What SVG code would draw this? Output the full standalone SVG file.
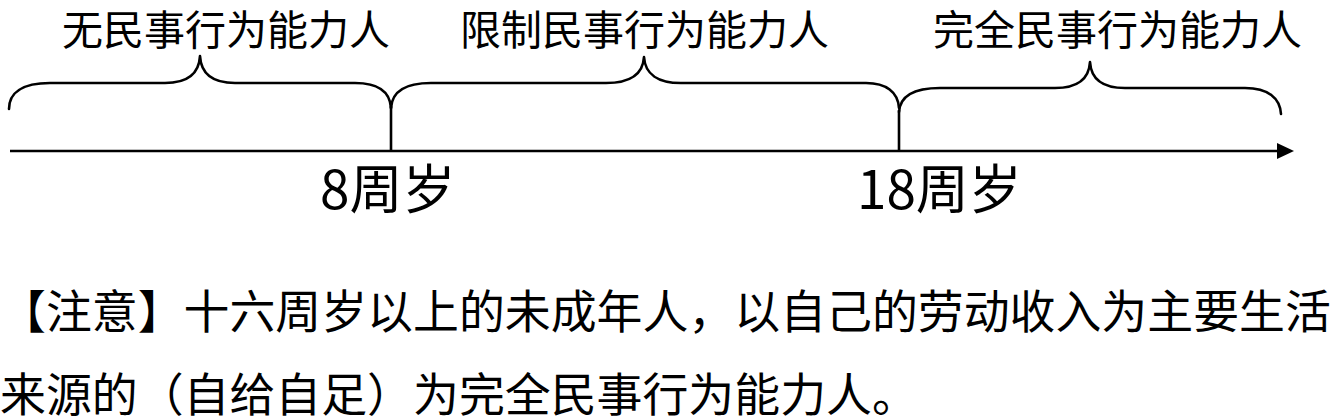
<svg xmlns="http://www.w3.org/2000/svg" width="1331" height="416" viewBox="0 0 1331 416">
<style>
text{font-family:"Noto Sans CJK SC","Liberation Sans",sans-serif;fill:#000}
.lab{font-size:41px;text-anchor:middle}
.age{font-size:53px}
.note{font-size:45.9px}
.brace{fill:none;stroke:#000;stroke-width:2.6;stroke-linecap:round;stroke-linejoin:round}
.line{fill:none;stroke:#000;stroke-width:2.6}
.head{fill:#000}
</style>
<rect width="1331" height="416" fill="#fff"/>
<g id="connectors">
<line class="line" x1="10" y1="151" x2="1280" y2="151" stroke-width="3.2"/>
<polygon class="head" points="1277,143 1294,151 1277,159"/>
<line class="line" x1="391" y1="106" x2="391" y2="151"/>
<line class="line" x1="899" y1="110" x2="899" y2="151"/>
</g>
<g id="brace1">
<path class="brace" d="M9,109 C9,93 22,83 50,83 L165,83 C188,83 199,74 200,56 C201,74 212,83 235,83 L355,83 C378,83 390,92 391,108"/>
<text class="lab" x="226" y="45">无民事行为能力人</text>
</g>
<g id="brace2">
<path class="brace" d="M391,108 C392,92 404,83 431,83 L606,83 C630,83 643,74 644,57 C645,74 658,83 681,83 L866,83 C886,83 898,92 899,108"/>
<text class="lab" x="644.5" y="45">限制民事行为能力人</text>
</g>
<g id="brace3">
<path class="brace" d="M899,112 C900,97 912,88 940,88 L1055,88 C1078,88 1089,79 1090,62 C1091,79 1102,88 1125,88 L1245,88 C1268,88 1280,98 1281,114"/>
<text class="lab" x="1117.5" y="45">完全民事行为能力人</text>
</g>
<g id="age8">
<text class="age" x="320" y="209">8周岁</text>
</g>
<g id="age18">
<text class="age" x="857" y="209">18周岁</text>
</g>
<g id="note">
<text class="note" x="0" y="328">【注意】十六周岁以上的未成年人，以自己的劳动收入为主要生活</text>
<text class="note" x="0" y="411">来源的（自给自足）为完全民事行为能力人。</text>
</g>
</svg>
